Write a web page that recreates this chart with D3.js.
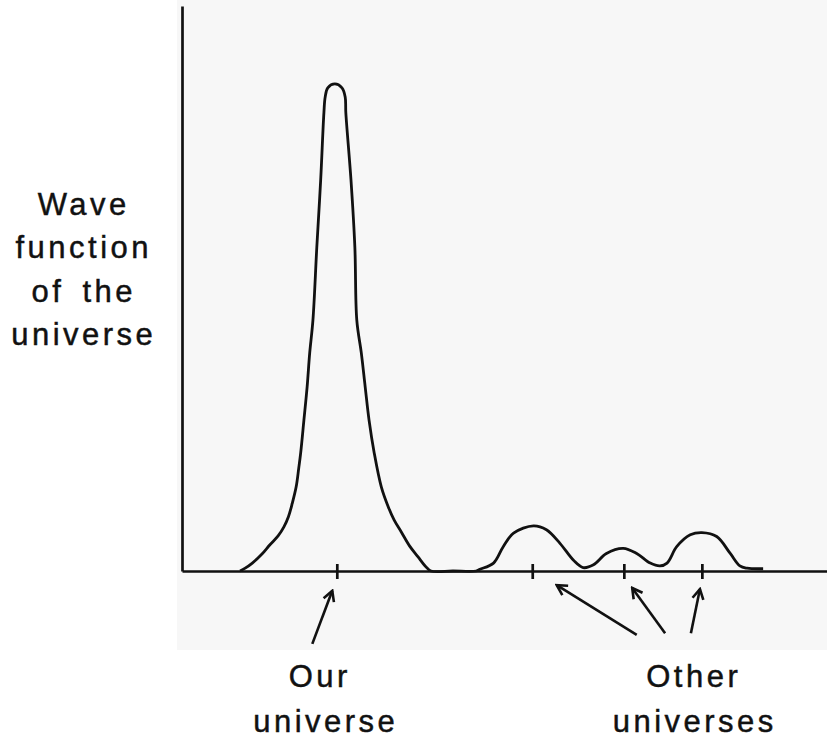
<!DOCTYPE html>
<html>
<head>
<meta charset="utf-8">
<script src="https://cdn.jsdelivr.net/npm/d3@7"></script>
<style>
	body { margin: 0; background: #fff; }
	svg { display: block; }
	text { font-family: "Liberation Sans", Arial, sans-serif; fill: #111; stroke: #111; stroke-width: 0.45px; }
</style>
</head>
<body>
<main></main>
<script>
// wave curve (x along the axis, y = height of the wave)
const waveX = [9.0, 9.8, 10.9, 12.4, 13.6, 14.9, 15.8, 16.5, 17.1, 17.7, 18.1, 18.4, 18.9, 19.4, 19.8,
	20.3, 20.9, 21.5, 22.0, 22.2, 22.6, 23.7, 24.8, 25.3, 25.4, 26.2, 26.8, 27.1, 27.8, 28.4,
	29.0, 29.8, 30.9, 32.0, 32.9, 34.0, 35.3, 36.6, 37.7, 38.6, 42.0,
	45.6, 46.2, 48.3, 49.8, 51.4, 54.5, 56.5, 58.6, 60.7, 62.2, 63.8, 65.8, 68.4, 70.5,
	72.6, 74.1, 75.2, 76.7, 78.8, 80.6, 82.9, 85.0, 86.5, 87.6, 90.1];
const waveY = [0, 0.5, 1.4, 3.0, 4.6, 6.2, 7.8, 9.6, 12.0, 14.9, 18.2, 20.9, 26.7, 32.6, 38.6,
	44.4, 57.3, 69.2, 81.1, 83.9, 85.5, 86.2, 85.5, 83.9, 81.1, 69.2, 57.3, 44.4, 38.6, 32.6,
	26.7, 20.9, 14.9, 11.3, 9.0, 6.9, 4.4, 2.5, 0.9, 0, 0,
	0, 0.3, 1.4, 4.3, 6.7, 8.0, 7.3, 4.9, 1.9, 0.6, 1.1, 3.1, 4.0, 3.1,
	1.4, 0.9, 1.4, 4.3, 6.4, 6.8, 6.1, 3.1, 0.9, 0.5, 0.4];

// one tick under each universe
const tickX = [24.0, 54.3, 68.5, 80.6];

// arrows: from label to tick (same units, negative y = below the axis)
const arrowFromX = [20.2, 70.5, 74.9, 78.9];
const arrowFromY = [-12.9, -11.3, -11.0, -11.0];
const arrowToX = [23.3, 58.1, 69.8, 80.3];
const arrowToY = [-3.5, -2.5, -3.0, -3.2];

const yLabel = ["Wave", "function", "of the", "universe"];
const ourLabel = ["Our", "universe"];
const otherLabel = ["Other", "universes"];

const W = 827, H = 739;
const ink = "#111";

const svg = d3.select("main").append("svg").attr("width", W).attr("height", H);

// scanned page area
svg.append("rect").attr("x", 177).attr("y", 0).attr("width", W - 177).attr("height", 650)
	.attr("fill", "#f7f7f7").attr("stroke", "none");

const x = d3.scaleLinear().domain([0, 100]).range([182, 827]);
const y = d3.scaleLinear().domain([0, 100]).range([571, 6]);

//Axes
const yAxis = d3.axisLeft(y).tickValues([]).tickSizeOuter(0);
const xAxis = d3.axisBottom(x).tickValues(tickX).tickFormat("").tickSizeInner(8).tickSizeOuter(0);

svg.append("g").attr("id", "y-axis")
	.attr("transform", "translate(" + x(0) + ",0)")
	.call(yAxis);
const gx = svg.append("g").attr("id", "x-axis")
	.attr("transform", "translate(0," + y(0) + ")")
	.call(xAxis);
gx.selectAll(".tick line").attr("y1", -7).attr("y2", 8);
svg.selectAll(".domain, .tick line").attr("stroke", ink).attr("stroke-width", 2.7);

// wave
const pts = waveX.map((v, i) => [v, waveY[i]]);
const line = d3.line().x((d) => x(d[0])).y((d) => y(d[1])).curve(d3.curveCatmullRom.alpha(0.5));
svg.append("path").datum(pts).attr("d", line)
	.attr("fill", "none").attr("stroke", ink).attr("stroke-width", 2.8)
	.attr("stroke-linejoin", "round");

// arrows
svg.append("defs").append("marker")
	.attr("id", "head").attr("markerUnits", "userSpaceOnUse")
	.attr("viewBox", "-12 -8 14 16").attr("markerWidth", 14).attr("markerHeight", 16)
	.attr("refX", 0).attr("refY", 0).attr("orient", "auto")
	.append("path").attr("d", "M-10,-5.5L0,0L-10,5.5")
	.attr("fill", "none").attr("stroke", ink).attr("stroke-width", 2.6)
	.attr("stroke-linejoin", "miter");
svg.selectAll("line.arrow").data(arrowToX).enter().append("line")
	.attr("class", "arrow")
	.attr("x1", (d, i) => x(arrowFromX[i])).attr("y1", (d, i) => y(arrowFromY[i]))
	.attr("x2", (d) => x(d)).attr("y2", (d, i) => y(arrowToY[i]))
	.attr("stroke", ink).attr("stroke-width", 2.6)
	.attr("marker-end", "url(#head)");

// labels
const fs = 31, ls = 3.5;
svg.append("g").selectAll("text").data(yLabel).enter().append("text")
	.attr("x", 82 + ls / 2).attr("y", (d, i) => 215 + i * 43.3)
	.attr("text-anchor", "middle").style("font-size", fs + "px").style("letter-spacing", ls + "px")
	.style("word-spacing", "6px").text((d) => d);
svg.append("g").selectAll("text").data(ourLabel).enter().append("text")
	.attr("x", (d, i) => [318, 324][i] + ls / 2).attr("y", (d, i) => 687 + i * 45)
	.attr("text-anchor", "middle").style("font-size", fs + "px").style("letter-spacing", ls + "px")
	.text((d) => d);
svg.append("g").selectAll("text").data(otherLabel).enter().append("text")
	.attr("x", (d, i) => [692, 693][i] + ls / 2).attr("y", (d, i) => 687 + i * 45)
	.attr("text-anchor", "middle").style("font-size", fs + "px").style("letter-spacing", ls + "px")
	.text((d) => d);
</script>
</body>
</html>
